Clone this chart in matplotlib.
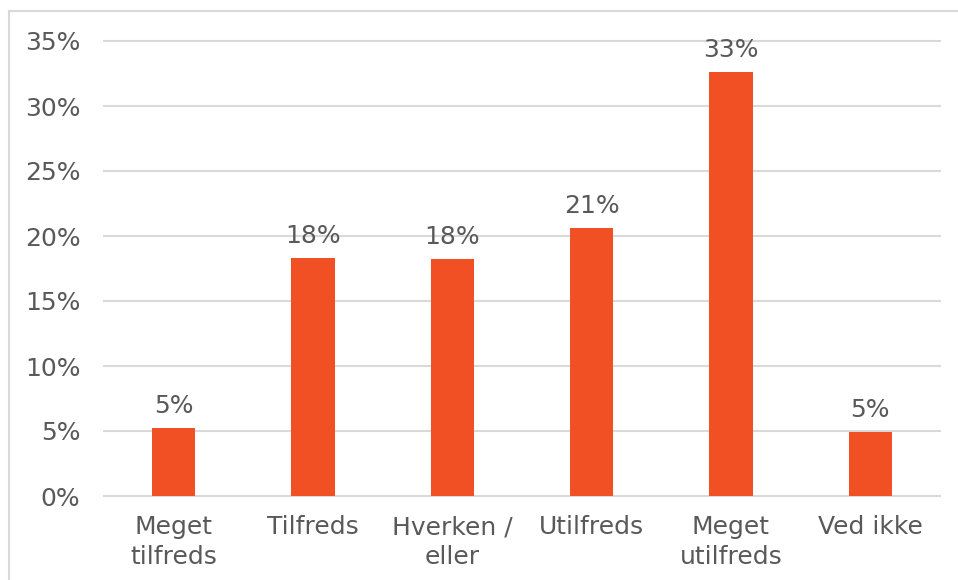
import matplotlib.pyplot as plt
from matplotlib.lines import Line2D

plt.rcParams['font.family'] = ['DejaVu Sans']

kategorier = ['Meget\ntilfreds', 'Tilfreds', 'Hverken /\neller', 'Utilfreds', 'Meget\nutilfreds', 'Ved ikke']
andeler = [5.2, 18.3, 18.2, 20.6, 32.6, 4.9]
etiketter = ['5%', '18%', '18%', '21%', '33%', '5%']

fig = plt.figure(figsize=(9.58, 5.80), dpi=100)
ax = fig.add_axes([104 / 958, 1 - 496 / 580, 836 / 958, 455 / 580])

# ramme (kun venstre og top er synlig)
rx, ry = 8.5 / 958, 1 - 11 / 580
fig.lines.append(Line2D([rx, rx], [0, ry], transform=fig.transFigure, color='#d9d9d9', linewidth=1.5))
fig.lines.append(Line2D([rx, 1], [ry, ry], transform=fig.transFigure, color='#d9d9d9', linewidth=1.5))

x = range(len(kategorier))
ax.bar(x, andeler, width=0.31, color='#F05023', zorder=3)

for i, (v, e) in enumerate(zip(andeler, etiketter)):
    ax.text(i, v + 0.8, e, ha='center', va='bottom', fontsize=18, color='#595959')

ax.set_ylim(0, 35)
ax.set_xlim(-0.5, len(kategorier) - 0.5)
for t in range(0, 36, 5):
    ax.axhline(t, color='#d9d9d9', linewidth=1.5, zorder=0, clip_on=False)
ax.set_yticks(range(0, 36, 5))
ax.set_yticklabels([f'{t}%' for t in range(0, 36, 5)])
ax.set_xticks(list(x))
ax.set_xticklabels(kategorier, linespacing=1.3)
ax.tick_params(axis='both', length=0, labelsize=18, labelcolor='#595959')
ax.tick_params(axis='y', pad=17)
ax.tick_params(axis='x', pad=14)
for s in ax.spines.values():
    s.set_visible(False)

plt.savefig('out.png')
